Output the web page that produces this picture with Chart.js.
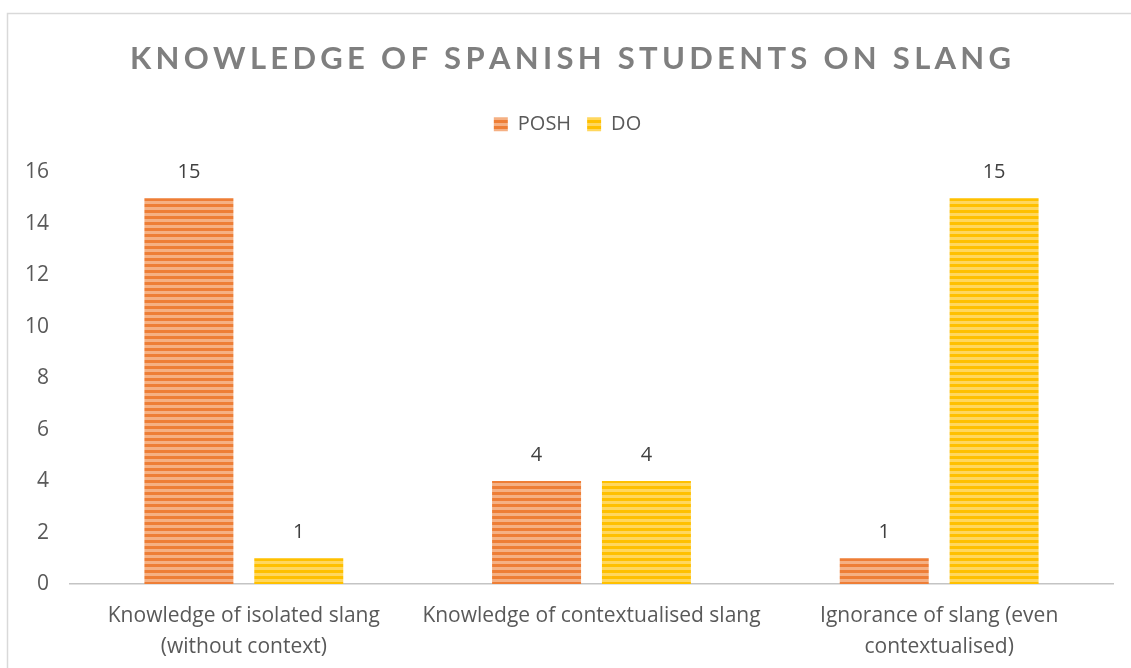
<!DOCTYPE html>
<html><head><meta charset="utf-8">
<script src="https://cdn.jsdelivr.net/npm/chart.js@4"></script>
<style>html,body{margin:0;padding:0;background:#fff;overflow:hidden}#wrap{width:1131px;height:668px;position:relative}</style>
</head><body><div id="wrap"><canvas id="c" width="1131" height="668"></canvas></div>
<script>
const chartTitle = 'KNOWLEDGE OF SPANISH STUDENTS ON SLANG';
const categories = [['Knowledge of isolated slang', '(without context)'], 'Knowledge of contextualised slang', ['Ignorance of slang (even', 'contextualised)']];
const seriesNames = ['POSH', 'DO'];
const poshValues = [15, 4, 1];
const doValues = [1, 4, 15];
const yMin = 0, yMax = 16, yStep = 2;

function stripes(dark, light) {
  const c = document.createElement('canvas');
  c.width = 4; c.height = 6;
  const x = c.getContext('2d');
  x.fillStyle = dark; x.fillRect(0, 0, 4, 3);
  x.fillStyle = light; x.fillRect(0, 3, 4, 3);
  return x.createPattern(c, 'repeat');
}
const ctx = document.getElementById('c').getContext('2d');
const poshFill = stripes('#EE7E36', '#F5B083');
const doFill = stripes('#FFC000', '#FFD75E');

const FONT = '"Open Sans"';
const TITLE_FONT = 'Lato';
const titlePlugin = {
  id: 'spacedTitle',
  beforeDraw(chart) {
    const c = chart.ctx;
    c.save();
    c.strokeStyle = '#d9d9d9';
    c.lineWidth = 1.5;
    c.strokeRect(7.5, 13.5, 1300, 900);
    c.restore();
  },
  afterDraw(chart) {
    const c = chart.ctx;
    const tb = chart.titleBlock;
    const cy = tb.top + tb.height / 2 + (tb.options.padding.top - tb.options.padding.bottom) / 2;
    const cx = (tb.left + tb.right) / 2 + 3;
    c.save();
    c.font = 'bold 31px ' + TITLE_FONT;
    c.fillStyle = '#7f7f7f';
    c.textBaseline = 'middle';
    const chars = chartTitle.split('');
    const spacing = 4.3;
    let w = 0;
    chars.forEach(ch => w += c.measureText(ch).width);
    w += spacing * (chars.length - 1);
    let x = cx - w / 2;
    chars.forEach(ch => { c.fillText(ch, x, cy); x += c.measureText(ch).width + spacing; });
    c.restore();
  }
};
const labelPlugin = {
  id: 'valueLabels',
  afterDatasetsDraw(chart) {
    const c = chart.ctx;
    c.save();
    c.font = '20px ' + FONT;
    c.fillStyle = '#404040';
    c.textAlign = 'center';
    c.textBaseline = 'middle';
    chart.data.datasets.forEach((ds, di) => {
      chart.getDatasetMeta(di).data.forEach((el, i) => {
        c.fillText(String(ds.data[i]), el.x, el.y - 26);
      });
    });
    c.restore();
  }
};

new Chart(ctx, {
  type: 'bar',
  data: {
    labels: categories,
    datasets: [
      { label: seriesNames[0], data: poshValues, backgroundColor: poshFill, borderWidth: 0 },
      { label: seriesNames[1], data: doValues, backgroundColor: doFill, borderWidth: 0 }
    ]
  },
  options: {
    responsive: false,
    animation: false,
    layout: { padding: { left: 22, right: 18, top: 0, bottom: 0 } },
    categoryPercentage: 0.632,
    barPercentage: 0.81,
    plugins: {
      title: { display: true, text: chartTitle, color: 'rgba(0,0,0,0)', font: { family: TITLE_FONT, size: 31, weight: 'bold' }, padding: { top: 40, bottom: 21 } },
      subtitle: { display: true, text: ' ', weight: 500, color: 'rgba(0,0,0,0)', font: { size: 1 }, padding: { top: 0, bottom: 27 } },
      legend: { position: 'top', labels: { color: '#595959', font: { family: FONT, size: 20 }, boxWidth: 14, boxHeight: 14, padding: 16 } },
      tooltip: { enabled: false }
    },
    scales: {
      x: {
        afterFit(scale) { scale.height = 84; },
        grid: { display: false, drawTicks: false },
        border: { display: true, color: '#c4c4c4', width: 1.5 },
        ticks: { color: '#595959', font: { family: FONT, size: 21, lineHeight: 1.45 }, padding: 17, maxRotation: 0 }
      },
      y: {
        min: yMin, max: yMax,
        afterFit(scale) { scale.width = 48; },
        grid: { display: false, drawTicks: false },
        border: { display: false },
        ticks: { stepSize: yStep, color: '#595959', font: { family: FONT, size: 21 }, padding: 21 }
      }
    }
  },
  plugins: [titlePlugin, labelPlugin]
});
</script></body></html>
